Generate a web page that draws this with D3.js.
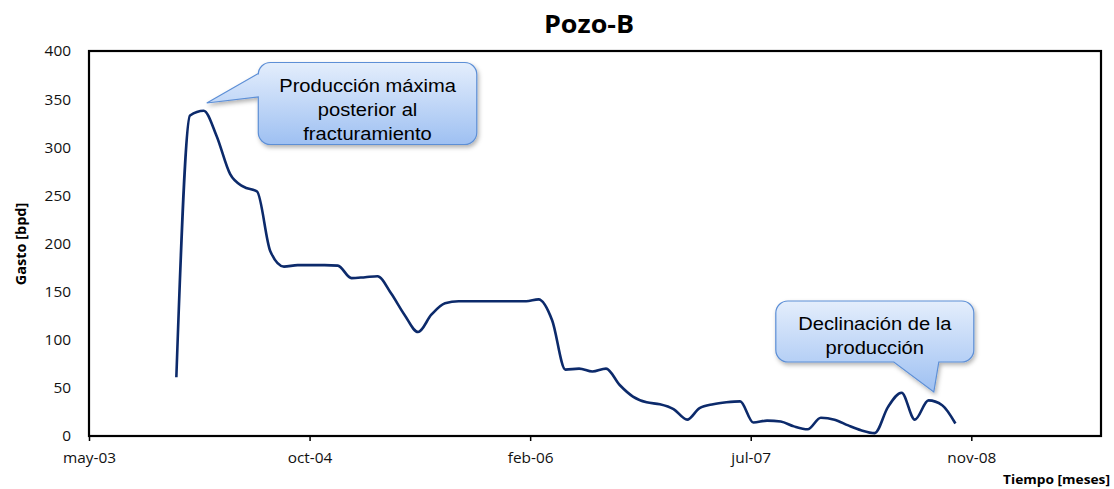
<!DOCTYPE html>
<html>
<head>
<meta charset="utf-8">
<script src="https://cdn.jsdelivr.net/npm/d3@7"></script>
<style>
  html, body { margin: 0; padding: 0; background: #ffffff; }
  svg { display: block; }
</style>
</head>
<body>
<svg id="chart" width="1114" height="489"></svg>
<script>
// Monthly production of well Pozo-B (bpd)
const months = [
  "2003-12",
  "2004-01","2004-02","2004-03","2004-04","2004-05","2004-06","2004-07","2004-08","2004-09","2004-10","2004-11","2004-12",
  "2005-01","2005-02","2005-03","2005-04","2005-05","2005-06","2005-07","2005-08","2005-09","2005-10","2005-11","2005-12",
  "2006-01","2006-02","2006-03","2006-04","2006-05","2006-06","2006-07","2006-08","2006-09","2006-10","2006-11","2006-12",
  "2007-01","2007-02","2007-03","2007-04","2007-05","2007-06","2007-07","2007-08","2007-09","2007-10","2007-11","2007-12",
  "2008-01","2008-02","2008-03","2008-04","2008-05","2008-06","2008-07","2008-08","2008-09","2008-10"
];
const gasto = [
  61,
  333, 338, 312, 272, 259, 254, 192, 176, 177.5, 177.5, 177.5, 177,
  164, 165, 166, 148, 126, 108, 126, 138, 140, 140, 140, 140,
  140, 140, 142, 120, 69, 70, 67, 70, 53, 41, 35, 33,
  28, 17, 29, 33, 35, 36, 14, 16, 15, 10, 7, 19,
  17, 11, 6, 3, 30, 45, 17, 37, 32, 13
];
const yTicks = [0, 50, 100, 150, 200, 250, 300, 350, 400];
const xTickLabels = ["may-03", "oct-04", "feb-06", "jul-07", "nov-08"];
const xTickStepDays = 500;
const xAxisStart = "2003-05-17";
const xAxisSpanDays = 2294;

const chartTitle = "Pozo-B";
const yTitle = "Gasto [bpd]";
const xTitle = "Tiempo [meses]";

const notes = [
  { lines: ["Producción máxima", "posterior al", "fracturamiento"],
    tipDate: "2004-02-08", tipValue: 346 },
  { lines: ["Declinación de la", "producción"],
    tipDate: "2008-08-13", tipValue: 45.7 }
];

// ---- layout ----
const W = 1114, H = 489;
const plot = { left: 89, right: 1101, top: 51, bottom: 436 };
const sx = 1.1; // horizontal text stretch

const parseMonth = d3.timeParse("%Y-%m");
const parseDay = d3.timeParse("%Y-%m-%d");
const start = parseDay(xAxisStart);
const end = d3.timeDay.offset(start, xAxisSpanDays);

const x = d3.scaleTime().domain([start, end]).range([plot.left, plot.right]);
const y = d3.scaleLinear().domain([0, 400]).range([plot.bottom, plot.top]);

const svg = d3.select("#chart");
const defs = svg.append("defs");

const grad = defs.append("linearGradient")
  .attr("id", "calloutFill").attr("x1", 0).attr("y1", 0).attr("x2", 0).attr("y2", 1);
grad.append("stop").attr("offset", "0%").attr("stop-color", "#e4eefc");
grad.append("stop").attr("offset", "100%").attr("stop-color", "#9ec0f2");

const shadow = defs.append("filter").attr("id", "calloutShadow")
  .attr("x", "-10%").attr("y", "-10%").attr("width", "130%").attr("height", "140%");
shadow.append("feDropShadow")
  .attr("dx", 1.5).attr("dy", 2.5).attr("stdDeviation", 2)
  .attr("flood-color", "#000").attr("flood-opacity", 0.3);

// Title
svg.append("text")
  .attr("transform", `translate(589,33) scale(${sx},1)`)
  .attr("text-anchor", "middle")
  .style("font-family", "'Open Sans', sans-serif")
  .style("font-weight", 700)
  .style("font-size", "24.5px")
  .attr("fill", "#000")
  .text(chartTitle);

// Y axis labels
const yAxis = d3.axisLeft(y).tickValues(yTicks).tickSize(0).tickPadding(0);
const gy = svg.append("g").attr("transform", `translate(71,0)`).call(yAxis);
gy.select(".domain").remove();
gy.selectAll("text")
  .attr("x", 0)
  .attr("dy", "0.35em")
  .attr("transform", `scale(${sx},1)`)
  .style("font-family", "'Open Sans', sans-serif")
  .style("font-size", "14px")
  .attr("fill", "#111");

// X axis with ticks every 500 days
const xTickDates = xTickLabels.map((_, i) => d3.timeDay.offset(start, i * xTickStepDays));
const xAxis = d3.axisBottom(x)
  .tickValues(xTickDates)
  .tickSize(5)
  .tickPadding(12)
  .tickFormat((d, i) => xTickLabels[i]);
const gx = svg.append("g").attr("transform", `translate(0,${plot.bottom})`).call(xAxis);
gx.select(".domain").remove();
gx.selectAll("line").attr("stroke", "#000").attr("stroke-width", 1.5);
gx.selectAll("text")
  .attr("transform", `scale(${sx},1)`)
  .style("font-family", "'Open Sans', sans-serif")
  .style("font-size", "14px")
  .attr("fill", "#111");

// Plot frame
svg.append("rect")
  .attr("x", plot.left).attr("y", plot.top)
  .attr("width", plot.right - plot.left).attr("height", plot.bottom - plot.top)
  .attr("fill", "none").attr("stroke", "#000").attr("stroke-width", 2.2);

// Axis titles
svg.append("text")
  .attr("transform", "translate(26,244) rotate(-90)")
  .attr("text-anchor", "middle")
  .style("font-family", "'Open Sans', sans-serif")
  .style("font-weight", 700)
  .style("font-size", "14.5px")
  .attr("fill", "#000")
  .text(yTitle);

svg.append("text")
  .attr("transform", `translate(1110,484) scale(${sx},1)`)
  .attr("text-anchor", "end")
  .style("font-family", "'Open Sans', sans-serif")
  .style("font-weight", 700)
  .style("font-size", "12.5px")
  .attr("fill", "#000")
  .text(xTitle);

// Production line (smoothed)
const series = months.map((m, i) => ({ date: parseMonth(m), value: gasto[i] }));
const line = d3.line()
  .x(d => x(d.date))
  .y(d => y(d.value))
  .curve(d3.curveMonotoneX);

svg.append("path")
  .datum(series)
  .attr("d", line)
  .attr("fill", "none")
  .attr("stroke", "#0c2a6b")
  .attr("stroke-width", 2.6)
  .attr("stroke-linejoin", "round")
  .attr("stroke-linecap", "butt");

// Callout shapes: rounded box with a pointer
function calloutLeft(bx0, by0, bx1, by1, r, ta, tb, tip) {
  return [
    `M${bx0 + r},${by0}`, `L${bx1 - r},${by0}`, `A${r},${r} 0 0 1 ${bx1},${by0 + r}`,
    `L${bx1},${by1 - r}`, `A${r},${r} 0 0 1 ${bx1 - r},${by1}`,
    `L${bx0 + r},${by1}`, `A${r},${r} 0 0 1 ${bx0},${by1 - r}`,
    `L${bx0},${tb}`, `L${tip[0]},${tip[1]}`, `L${bx0},${ta}`,
    `L${bx0},${by0 + r}`, `A${r},${r} 0 0 1 ${bx0 + r},${by0}`, "Z"
  ].join("");
}
function calloutBottom(bx0, by0, bx1, by1, r, ta, tb, tip) {
  return [
    `M${bx0 + r},${by0}`, `L${bx1 - r},${by0}`, `A${r},${r} 0 0 1 ${bx1},${by0 + r}`,
    `L${bx1},${by1 - r}`, `A${r},${r} 0 0 1 ${bx1 - r},${by1}`,
    `L${tb},${by1}`, `L${tip[0]},${tip[1]}`, `L${ta},${by1}`,
    `L${bx0 + r},${by1}`, `A${r},${r} 0 0 1 ${bx0},${by1 - r}`,
    `L${bx0},${by0 + r}`, `A${r},${r} 0 0 1 ${bx0 + r},${by0}`, "Z"
  ].join("");
}

function drawNote(note, shape) {
  const tip = [x(parseDay(note.tipDate)), y(note.tipValue)];
  const g = svg.append("g");
  g.append("path")
    .attr("d", shape(tip))
    .attr("fill", "url(#calloutFill)")
    .attr("stroke", "#5d8fd6")
    .attr("stroke-width", 1.2)
    .attr("filter", "url(#calloutShadow)");
  return { g, tip };
}

function noteText(g, lines, cx, y0, step) {
  lines.forEach((s, i) => {
    g.append("text")
      .attr("transform", `translate(${cx},${y0 + i * step}) scale(${sx},1)`)
      .attr("text-anchor", "middle")
      .style("font-family", "'Liberation Sans', Arial, sans-serif")
      .style("font-size", "18.3px")
      .attr("fill", "#000")
      .text(s);
  });
}

// Peak annotation: pointer on the left side of the box
{
  const n = notes[0];
  const { g, tip } = drawNote(n, t => calloutLeft(t[0] + 51.5, t[1] - 40.5, t[0] + 270, t[1] + 41.5, 12,
    t[1] - 29.5, t[1] - 6, t));
  noteText(g, n.lines, tip[0] + (51.5 + 270) / 2, tip[1] - 11, 24);
}

// Decline annotation: pointer on the bottom of the box
{
  const n = notes[1];
  const { g, tip } = drawNote(n, t => calloutBottom(t[0] - 158, t[1] - 91, t[0] + 40, t[1] - 30, 12,
    t[0] - 40, t[0] + 5, t));
  noteText(g, n.lines, tip[0] + (-158 + 40) / 2, tip[1] - 62.5, 24.5);
}
</script>
</body>
</html>
